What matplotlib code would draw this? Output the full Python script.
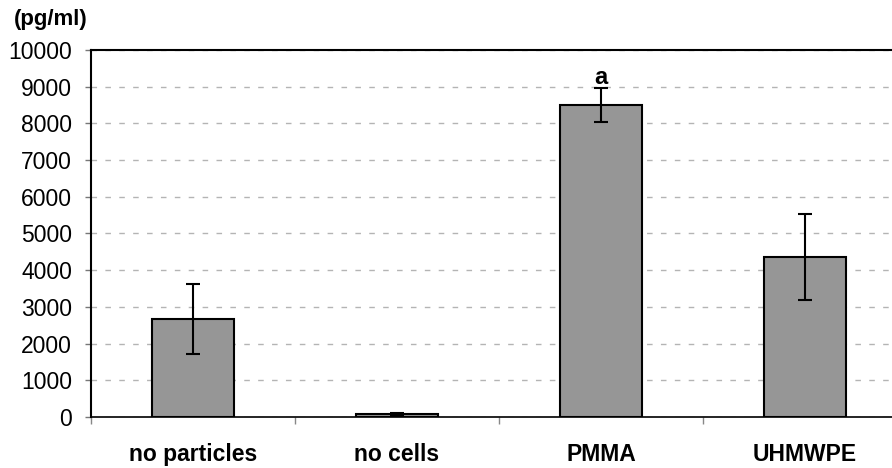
import matplotlib
matplotlib.use("Agg")
import matplotlib.pyplot as plt
import numpy as np

categories = ["no particles", "no cells", "PMMA", "UHMWPE"]
values = [2670, 80, 8500, 4360]
errors = [950, 30, 460, 1160]
marks = ["", "", "a", ""]
y_ticks = list(range(0, 10001, 1000))

plt.rcParams['font.family'] = ['Liberation Sans', 'DejaVu Sans']

fig = plt.figure(figsize=(8.92, 4.68), dpi=100)
ax = fig.add_axes([91 / 892, 1 - 417 / 468, 816 / 892, 367 / 468])

x = np.arange(len(categories))
ax.bar(x, values, width=0.4, color="#969696", edgecolor="black", linewidth=1.5, zorder=3)
ax.errorbar(x, values, yerr=errors, fmt="none", ecolor="black", elinewidth=1.5,
            capsize=5, capthick=1.5, zorder=4)

for xi, v, e, m in zip(x, values, errors, marks):
    if m:
        ax.text(xi, v + e - 30, m, ha="center", va="bottom", fontsize=17, fontweight="bold")

ax.set_xlim(-0.5, len(categories) - 0.5)
ax.set_ylim(0, 10000)
ax.set_yticks(y_ticks)
ax.tick_params(axis="y", labelsize=16.5, length=4.5, width=1, color="#777777",
               direction="out", pad=9)
ax.yaxis.grid(True, linestyle=(0, (4, 6)), color="#b4b4b4", linewidth=1, zorder=0)

ax.set_xticks(x)
ax.set_xticklabels(categories, fontsize=16.5, fontweight="bold")
ax.set_xticks(np.arange(-0.5, len(categories), 1), minor=True)
ax.tick_params(axis="x", which="major", length=0, pad=19)
ax.tick_params(axis="x", which="minor", length=5, width=1, color="#888888")

for s in ax.spines.values():
    s.set_linewidth(1.5)
ax.spines["bottom"].set_linewidth(1.2)

fig.text(14 / 892, 1 - 20 / 468, "(pg/ml)", fontsize=16, fontweight="bold", ha="left", va="center")

fig.savefig("out.png", dpi=100)
